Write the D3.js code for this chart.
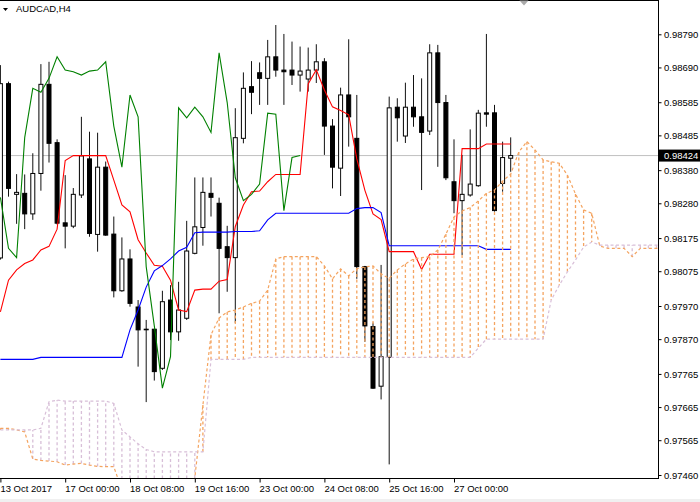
<!DOCTYPE html>
<html><head><meta charset="utf-8">
<script src="https://cdn.jsdelivr.net/npm/d3@7/dist/d3.min.js"></script>
<style>
html,body{margin:0;padding:0;background:#fff;}
svg{display:block;}
text{font-family:"Liberation Sans",Arial,sans-serif;}
</style></head><body>
<svg id="c" width="700" height="502"></svg>
<script>
// ---------------- DATA ----------------
const symbolTitle = "AUDCAD,H4";
const timeTickIndex = [0, 8, 16, 24, 32, 40, 48, 56];
const timeTickLabels = ["13 Oct 2017", "17 Oct 00:00", "18 Oct 08:00", "19 Oct 16:00",
  "23 Oct 00:00", "24 Oct 08:00", "25 Oct 16:00", "27 Oct 00:00"];
const priceTicks = [0.98790, 0.98690, 0.98585, 0.98485, 0.98380, 0.98280, 0.98175,
  0.98075, 0.97970, 0.97870, 0.97765, 0.97665, 0.97565, 0.97460];
const lastPrice = 0.98424;

const open = [0.98115,0.98641,0.98307,0.98310,0.98248,0.98370,0.98639,0.98463,0.98221,0.98211,
  0.98305,0.98414,0.98186,0.98389,0.98187,0.98016,0.98112,0.97967,0.97900,0.97900,
  0.97782,0.97988,0.97892,0.97933,0.98129,0.98207,0.98310,0.98280,0.98149,0.98116,
  0.98476,0.98632,0.98674,0.98657,0.98722,0.98682,0.98682,0.98667,0.98655,0.98682,
  0.98707,0.98513,0.98386,0.98607,0.98476,0.98089,0.97908,0.97728,0.97815,0.98570,
  0.98483,0.98570,0.98541,0.98498,0.98734,0.98584,0.98345,0.98288,0.98305,0.98333,
  0.98553,0.98553,0.98340,0.98416];
const high = [0.98697,0.98647,0.98368,0.98367,0.98431,0.98700,0.98707,0.98473,0.98365,0.98326,
  0.98541,0.98496,0.98493,0.98406,0.98240,0.98177,0.98141,0.97988,0.97928,0.97901,
  0.98016,0.98033,0.98043,0.98227,0.98358,0.98358,0.98358,0.98297,0.98212,0.98567,
  0.98675,0.98709,0.98705,0.98773,0.98818,0.98791,0.98768,0.98753,0.98750,0.98760,
  0.98718,0.98534,0.98629,0.98775,0.98607,0.98091,0.97920,0.98094,0.98602,0.98597,
  0.98644,0.98667,0.98657,0.98760,0.98758,0.98607,0.98473,0.98426,0.98503,0.98562,
  0.98791,0.98577,0.98466,0.98479];
const low = [0.98110,0.98300,0.98218,0.98202,0.98230,0.98318,0.98403,0.98216,0.98144,0.98205,
  0.98296,0.98179,0.98134,0.98182,0.97996,0.98013,0.97968,0.97787,0.97680,0.97745,
  0.97777,0.97867,0.97865,0.97928,0.98126,0.98152,0.98240,0.97948,0.98013,0.97919,
  0.98461,0.98549,0.98577,0.98577,0.98662,0.98577,0.98637,0.98617,0.98617,0.98643,
  0.98426,0.98325,0.98302,0.98451,0.98052,0.97862,0.97720,0.97688,0.97492,0.98466,
  0.98462,0.98511,0.98320,0.98486,0.98390,0.98350,0.98250,0.98124,0.98300,0.98330,
  0.98511,0.98255,0.98315,0.98375];
const close = [0.98641,0.98325,0.98313,0.98248,0.98370,0.98639,0.98461,0.98220,0.98211,0.98307,
  0.98423,0.98189,0.98389,0.98184,0.98016,0.98112,0.97978,0.97898,0.97899,0.97772,
  0.97983,0.97892,0.97958,0.98136,0.98209,0.98313,0.98298,0.98144,0.98116,0.98478,
  0.98627,0.98615,0.98657,0.98722,0.98682,0.98677,0.98667,0.98679,0.98682,0.98707,
  0.98513,0.98389,0.98607,0.98541,0.98089,0.97910,0.97722,0.97817,0.98568,0.98538,
  0.98570,0.98541,0.98494,0.98734,0.98584,0.98357,0.98288,0.98307,0.98338,0.98552,
  0.98549,0.98258,0.98418,0.98424];

const tenkan = [0.97952,0.98048,0.98079,0.98098,0.98109,0.98139,0.98150,0.98202,0.98409,0.98424,
  0.98424,0.98424,0.98424,0.98424,0.98350,0.98275,0.98254,0.98170,0.98130,0.98093,
  0.98090,0.98048,0.97958,0.97953,0.98018,0.98021,0.98021,0.98045,0.98050,0.98210,
  0.98275,0.98315,0.98317,0.98345,0.98367,0.98367,0.98367,0.98367,0.98640,0.98683,
  0.98622,0.98571,0.98560,0.98547,0.98414,0.98319,0.98248,0.98231,0.98134,0.98134,
  0.98134,0.98134,0.98080,0.98126,0.98126,0.98126,0.98126,0.98445,0.98445,0.98445,
  0.98459,0.98459,0.98459,0.98459];
const kijun = [0.97809,0.97809,0.97809,0.97809,0.97809,0.97815,0.97815,0.97815,0.97815,0.97815,
  0.97815,0.97815,0.97815,0.97815,0.97815,0.97815,0.97898,0.97958,0.98027,0.98076,
  0.98092,0.98112,0.98136,0.98147,0.98191,0.98193,0.98193,0.98193,0.98193,0.98195,
  0.98195,0.98195,0.98197,0.98230,0.98250,0.98250,0.98250,0.98250,0.98250,0.98250,
  0.98250,0.98250,0.98250,0.98250,0.98264,0.98267,0.98267,0.98252,0.98152,0.98152,
  0.98152,0.98152,0.98152,0.98152,0.98152,0.98152,0.98152,0.98152,0.98152,0.98152,
  0.98141,0.98141,0.98141,0.98141];
const chikou = [0.98298,0.98144,0.98116,0.98478,0.98627,0.98615,0.98657,0.98722,0.98682,0.98677,
  0.98667,0.98679,0.98682,0.98707,0.98513,0.98389,0.98607,0.98541,0.98089,0.97910,
  0.97722,0.97817,0.98568,0.98538,0.98570,0.98541,0.98494,0.98734,0.98584,0.98357,
  0.98288,0.98307,0.98338,0.98552,0.98549,0.98258,0.98418,0.98424];
const spanA = [0.97601,0.97601,0.97596,0.97590,0.97508,0.97504,0.97502,0.97500,0.97490,0.97493,
  0.97495,0.97490,0.97486,0.97485,0.97485,0.97415,0.97400,0.97400,0.97400,0.97400,
  0.97400,0.97400,0.97400,0.97400,0.97451,0.97671,0.97883,0.97934,0.97952,0.97958,
  0.97967,0.97978,0.97985,0.98018,0.98112,0.98119,0.98119,0.98119,0.98119,0.98119,
  0.98091,0.98052,0.98082,0.98061,0.98083,0.98088,0.98091,0.98067,0.98053,0.98079,
  0.98097,0.98112,0.98116,0.98119,0.98139,0.98187,0.98239,0.98257,0.98267,0.98287,
  0.98310,0.98320,0.98347,0.98368,0.98435,0.98466,0.98441,0.98411,0.98405,0.98401,
  0.98365,0.98308,0.98260,0.98250,0.98151,0.98144,0.98144,0.98144,0.98119,0.98144,
  0.98144,0.98144,0.98144];
const spanB = [0.97596,0.97596,0.97596,0.97596,0.97596,0.97601,0.97681,0.97686,0.97683,0.97683,
  0.97683,0.97683,0.97683,0.97683,0.97676,0.97596,0.97575,0.97554,0.97537,0.97530,
  0.97530,0.97530,0.97530,0.97530,0.97530,0.97530,0.97809,0.97809,0.97809,0.97809,
  0.97809,0.97815,0.97815,0.97815,0.97815,0.97815,0.97815,0.97815,0.97815,0.97815,
  0.97815,0.97815,0.97815,0.97815,0.97815,0.97815,0.97815,0.97815,0.97815,0.97815,
  0.97815,0.97815,0.97815,0.97815,0.97815,0.97815,0.97815,0.97815,0.97815,0.97843,
  0.97870,0.97870,0.97870,0.97870,0.97870,0.97870,0.97870,0.97870,0.97988,0.98033,
  0.98073,0.98109,0.98148,0.98163,0.98154,0.98154,0.98154,0.98154,0.98154,0.98154,
  0.98154,0.98154,0.98154];

// ---------------- LAYOUT ----------------
const W = 700, H = 502;
const plotRight = 658, plotBottom = 478;
const svg = d3.select("#c");
svg.append("rect").attr("width", W).attr("height", H).attr("fill", "#fff");
svg.append("rect").attr("x", 0).attr("y", 499).attr("width", W).attr("height", 3).attr("fill", "#f0f0f0");

const x = d3.scaleLinear().domain([0, 1]).range([0.4, 8.5]);
const y = d3.scaleLinear().domain([0.97460, 0.98790]).range([475, 34.3]);

svg.append("clipPath").attr("id", "plot").append("rect")
  .attr("x", 0).attr("y", 0).attr("width", plotRight).attr("height", plotBottom);
const g = svg.append("g").attr("clip-path", "url(#plot)");

// last price line
g.append("line").attr("x1", 0).attr("x2", plotRight)
  .attr("y1", y(lastPrice)).attr("y2", y(lastPrice))
  .attr("stroke", "#c0c0c0").attr("stroke-width", 1);

// candles
const idx = d3.range(close.length);
const cg = g.append("g");
cg.selectAll("line.wick").data(idx).join("line").attr("class", "wick")
  .attr("x1", i => x(i)).attr("x2", i => x(i))
  .attr("y1", i => y(high[i])).attr("y2", i => y(low[i]))
  .attr("stroke", "#111").attr("stroke-width", 1);
cg.selectAll("rect.body").data(idx).join("rect").attr("class", "body")
  .attr("x", i => x(i) - 2).attr("width", 4)
  .attr("y", i => y(Math.max(open[i], close[i])))
  .attr("height", i => Math.max(0.6, Math.abs(y(open[i]) - y(close[i]))))
  .attr("fill", i => close[i] >= open[i] ? "#fff" : "#000")
  .attr("stroke", "#000").attr("stroke-width", 1);

const lineGen = (arr, off = 0) => d3.line().x((d, i) => x(i + off)).y(d => y(d))(arr);

// tenkan & kijun
g.append("path").attr("d", lineGen(tenkan)).attr("fill", "none")
  .attr("stroke", "#ff0000").attr("stroke-width", 1.1);
g.append("path").attr("d", lineGen(kijun)).attr("fill", "none")
  .attr("stroke", "#0000ff").attr("stroke-width", 1.1);

// kumo histogram (dotted verticals, sandy brown when span A is above span B, thistle otherwise)
const kidx = d3.range(spanA.length);
g.append("g").selectAll("line").data(kidx).join("line")
  .attr("x1", i => x(i)).attr("x2", i => x(i))
  .attr("y1", i => y(spanA[i])).attr("y2", i => y(spanB[i]))
  .attr("stroke", i => spanA[i] >= spanB[i] ? "#f4a460" : "#d8bfd8")
  .attr("stroke-width", 1.3).attr("stroke-dasharray", "3,2.5");

// chikou
g.append("path").attr("d", lineGen(chikou)).attr("fill", "none")
  .attr("stroke", "#008000").attr("stroke-width", 1.1);

// span lines
g.append("path").attr("d", lineGen(spanA)).attr("fill", "none")
  .attr("stroke", "#f4a460").attr("stroke-width", 1.2).attr("stroke-dasharray", "3,2.5");
g.append("path").attr("d", lineGen(spanB)).attr("fill", "none")
  .attr("stroke", "#d8bfd8").attr("stroke-width", 1.2).attr("stroke-dasharray", "3,2.5");

// frame
svg.append("line").attr("x1", 0).attr("x2", plotRight).attr("y1", 0.5).attr("y2", 0.5).attr("stroke", "#000");
svg.append("line").attr("x1", plotRight + 0.5).attr("x2", plotRight + 0.5).attr("y1", 0).attr("y2", plotBottom + 1).attr("stroke", "#000");
svg.append("line").attr("x1", 0).attr("x2", plotRight + 1).attr("y1", plotBottom + 0.5).attr("y2", plotBottom + 0.5).attr("stroke", "#000");

// price axis
const ya = svg.append("g").attr("transform", `translate(${plotRight + 0.5},0)`)
  .call(d3.axisRight(y).tickValues(priceTicks).tickFormat(d3.format(".5f")).tickSize(3).tickPadding(3));
ya.select(".domain").remove();
ya.selectAll("text").attr("font-size", 9.5).attr("font-family", "Liberation Sans, Arial, sans-serif")
  .attr("fill", "#000").attr("x", 5.5).attr("dy", "0.34em");
ya.selectAll("line").attr("stroke", "#000");

// last price label
svg.append("rect").attr("x", plotRight + 1).attr("y", y(lastPrice) - 6).attr("width", W - plotRight - 1).attr("height", 12).attr("fill", "#000");
svg.append("text").attr("x", plotRight + 6).attr("y", y(lastPrice)).attr("dy", "0.34em")
  .attr("font-size", 9.5).attr("fill", "#fff").text(d3.format(".5f")(lastPrice));

// time axis
const xa = svg.append("g").attr("transform", `translate(0,${plotBottom + 0.5})`)
  .call(d3.axisBottom(x).tickValues(timeTickIndex).tickFormat((d, i) => timeTickLabels[i]).tickSize(4));
xa.select(".domain").remove();
xa.selectAll("line").attr("stroke", "#000");
xa.selectAll("text").attr("font-size", 9.5).attr("font-family", "Liberation Sans, Arial, sans-serif")
  .attr("fill", "#000").attr("text-anchor", "start").attr("x", -0.5).attr("y", 13).attr("dy", 0);

// title
svg.append("path").attr("d", "M3,8 L8,8 L5.5,11 Z").attr("fill", "#000");
svg.append("text").attr("x", 16).attr("y", 12).attr("font-size", 9.5).attr("fill", "#000").text(symbolTitle);
// shift marker
svg.append("path").attr("d", "M519.5,0.5 L528.5,0.5 L524,5.5 Z").attr("fill", "#aaaaaa");
</script>
</body></html>
